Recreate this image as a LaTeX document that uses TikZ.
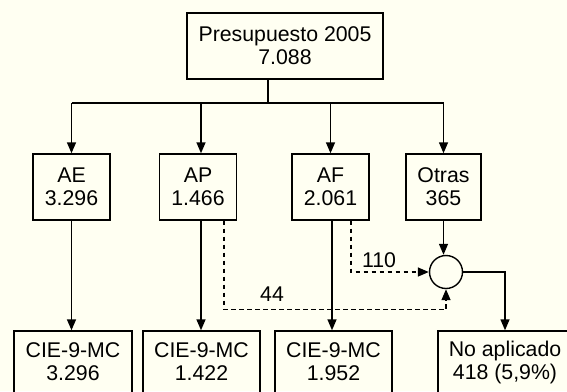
\documentclass[tikz,border=0pt]{standalone}
\usepackage{fontspec}
\setmainfont{Liberation Sans}
\usetikzlibrary{arrows.meta,calc}
\definecolor{bg}{RGB}{255,255,242}
\begin{document}
\begin{tikzpicture}[x=1pt,y=-1pt,
  every node/.style={font=\fontsize{21.3}{23}\selectfont, align=center, inner sep=0pt},
  box/.style={draw, line width=1.4pt, minimum height=66pt, minimum width=77pt},
  ln/.style={line width=1.4pt},
  arr/.style={ln, -{Triangle[length=11pt,width=9pt]}},
  dsh/.style={arr, dash pattern=on 4.5pt off 3.5pt},
]
\useasboundingbox (0,0) rectangle (567,391);
\clip (0,0) rectangle (567,391);
\fill[bg] (0,0) rectangle (567,391);

\node[box, minimum width=196pt] (top) at (285,46) {Presupuesto 2005\\7.088};
\node[box] (ae) at (71.5,187) {AE\\3.296};
\node[box] (ap) at (198,187) {AP\\1.466};
\node[box] (af) at (330.5,187) {AF\\2.061};
\node[box, minimum width=75pt] (ot) at (443.5,187) {Otras\\365};
\node[draw, circle, line width=1.4pt, minimum size=33pt] (c) at (446,272) {};

\node[box, minimum width=118pt, minimum height=62pt] (b1) at (73,362) {CIE-9-MC\\3.296};
\node[box, minimum width=117pt, minimum height=62pt] (b2) at (201.5,362) {CIE-9-MC\\1.422};
\node[box, minimum width=117pt, minimum height=62pt] (b3) at (333.5,362) {CIE-9-MC\\1.952};
\node[box, minimum width=134pt, minimum height=62pt] (b4) at (505,362) {No aplicado\\418 (5,9\%)};

\node (l110) at (379,260) {110};
\node (l44) at (272,294) {44};

\coordinate (t1) at ($(top.south)+(-17pt,0)$);
\coordinate (bar) at (268,103);
\draw[ln] (t1) -- (bar);
\draw[ln] (ae.north |- bar) -- (ot.north |- bar);
\draw[arr] (ae.north |- bar) -- (ae.north);
\draw[arr] ([xshift=3pt]ap.north |- bar) -- ([xshift=3pt]ap.north);
\draw[arr] (af.north |- bar) -- (af.north);
\draw[arr] (ot.north |- bar) -- (ot.north);

\draw[arr] (ae.south) -- (ae.south |- b1.north);
\draw[arr] ([xshift=3pt]ap.south) -- ([xshift=3pt]ap.south |- b2.north);
\draw[arr] ([xshift=1.5pt]af.south) -- ([xshift=1.5pt]af.south |- b3.north);
\draw[arr] (ot.south) -- (ot.south |- c.north);
\draw[arr] (c.east) -| (b4.north);

\draw[dsh] ([xshift=26pt]ap.south) |- ([yshift=-20.5pt]c.south) -- (c.south);
\draw[dsh] ([xshift=20.5pt]af.south) |- (c.west);
\end{tikzpicture}
\end{document}
